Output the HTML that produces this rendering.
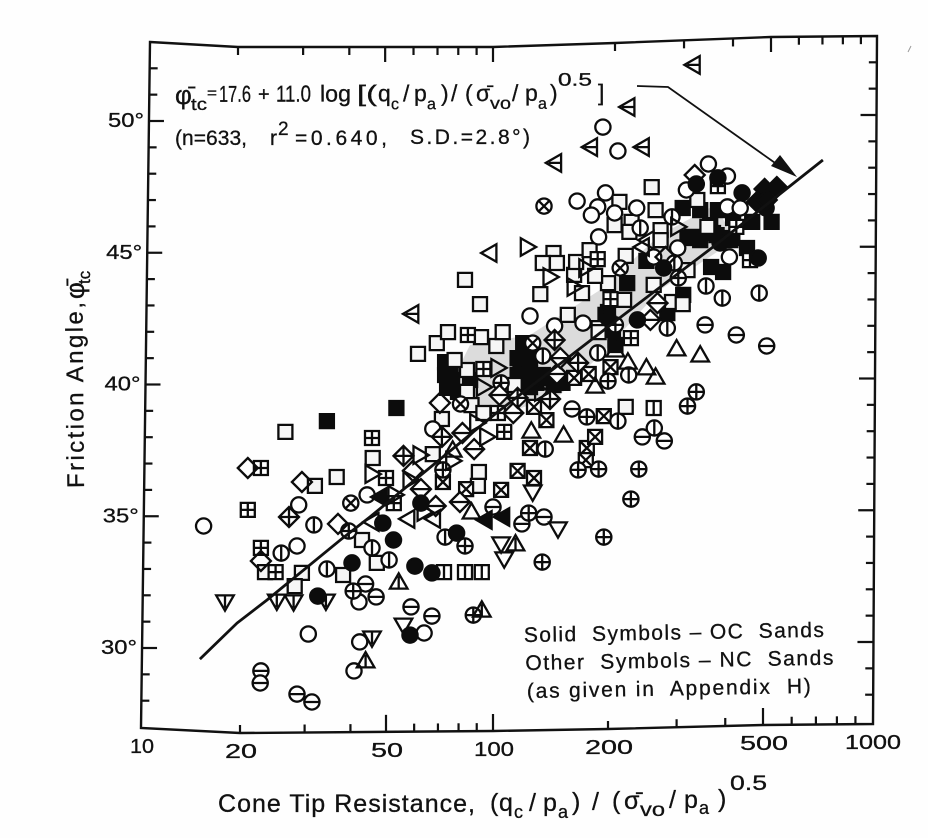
<!DOCTYPE html>
<html lang="en">
<head>
<meta charset="utf-8">
<title>Friction Angle vs Cone Tip Resistance</title>
<style>
html,body{margin:0;padding:0;background:#fff;width:928px;height:838px;overflow:hidden}
svg{display:block}
text{font-family:"Liberation Sans","DejaVu Sans",sans-serif;fill:#111;stroke:#111;stroke-width:.3px;white-space:pre}
</style>
</head>
<body>
<svg id="chart" xmlns="http://www.w3.org/2000/svg" width="928" height="838" viewBox="0 0 928 838">
  <rect x="0" y="0" width="928" height="838" fill="#fefefe"/>
  <path d="M445 395 L470 345 L530 335 L600 290 L660 235 L715 205 L735 240 L660 290 L610 345 L560 395 L500 415 Z" fill="#dcdcdc"/>
  <g id="marks"></g>
  <path id="fit" fill="none" stroke="#111" stroke-width="2.8"/>
  <path d="M150 42 L238 47 L493 47 L615 43 L771 37 L877 36 L873 724 L763 725 L608 729 L493 731 L240 733 L141 728 Z" fill="none" stroke="#111" stroke-width="2.4"/>
  <g id="ticks" stroke="#111" stroke-width="2.2"></g>
  <g id="labels"></g>

  <g transform="rotate(-0.2 175 102)">
    <text x="175" y="104" font-size="26">φ̄</text>
    <text x="191" y="110" font-size="17" textLength="16" lengthAdjust="spacingAndGlyphs">tc</text>
    <text x="207" y="98" font-size="15" textLength="10" lengthAdjust="spacingAndGlyphs">=</text>
    <text x="219" y="102" font-size="23" textLength="32" lengthAdjust="spacingAndGlyphs">17.6</text>
    <text x="258" y="101" font-size="20">+</text>
    <text x="276" y="102" font-size="23" textLength="35" lengthAdjust="spacingAndGlyphs">11.0</text>
    <text x="320" y="102" font-size="23" textLength="31" lengthAdjust="spacingAndGlyphs">log</text>
    <text x="357" y="102" font-size="23" textLength="20" lengthAdjust="spacingAndGlyphs">[(</text>
    <text x="378" y="102" font-size="23">q</text>
    <text x="391" y="110" font-size="16">c</text>
    <text x="403" y="102" font-size="23">/</text>
    <text x="414" y="102" font-size="23">p</text>
    <text x="427" y="110" font-size="16">a</text>
    <text x="441" y="102" font-size="23">)</text>
    <text x="451" y="102" font-size="23">/</text>
    <text x="465" y="102" font-size="23">(</text>
    <text x="476" y="102" font-size="23">σ̄</text>
    <text x="490" y="110" font-size="17" textLength="21" lengthAdjust="spacingAndGlyphs">vo</text>
    <text x="512" y="102" font-size="23">/</text>
    <text x="525" y="102" font-size="23">p</text>
    <text x="538" y="110" font-size="16">a</text>
    <text x="550" y="102" font-size="23">)</text>
    <text x="558" y="87" font-size="18" textLength="34" lengthAdjust="spacingAndGlyphs">0.5</text>
    <text x="598" y="102" font-size="23">]</text>
  </g>
  <g>
    <text x="175" y="145" font-size="21" textLength="72" lengthAdjust="spacing">(n=633,</text>
    <text x="270" y="145" font-size="21">r</text>
    <text x="278" y="135" font-size="19">2</text>
    <text x="295" y="145" font-size="21" textLength="92" lengthAdjust="spacing">=0.640,</text>
    <text x="410" y="144" font-size="21" textLength="120" lengthAdjust="spacing">S.D.=2.8°)</text>
  </g>

  <path d="M637 86 L668 87 L785 170" fill="none" stroke="#111" stroke-width="1.8"/>
  <path d="M797 177 L771 166 L780 155 Z" fill="#111"/>

  <g transform="rotate(-1 525 642)">
    <text x="524" y="642" font-size="21" textLength="300" lengthAdjust="spacing">Solid  Symbols – OC  Sands</text>
    <text x="525" y="670" font-size="21" textLength="308" lengthAdjust="spacing">Other  Symbols – NC  Sands</text>
    <text x="526" y="698" font-size="21" textLength="284" lengthAdjust="spacing">(as given in  Appendix  H)</text>
  </g>

  <g>
    <text transform="translate(84 488) rotate(-90.5)" font-size="24" textLength="186" lengthAdjust="spacing">Friction Angle,</text>
    <text transform="translate(84 299) rotate(-90.5)" font-size="26">φ̄</text>
    <text transform="translate(90 284) rotate(-90.5)" font-size="17">tc</text>
  </g>

  <g>
    <text x="218" y="812" font-size="25" textLength="257" lengthAdjust="spacing">Cone Tip Resistance,</text>
    <text x="490" y="811" font-size="25">(</text>
    <text x="499" y="811" font-size="25">q</text>
    <text x="514" y="818" font-size="18">c</text>
    <text x="529" y="811" font-size="25">/</text>
    <text x="543" y="811" font-size="25">p</text>
    <text x="558" y="818" font-size="18">a</text>
    <text x="572" y="810" font-size="25">)</text>
    <text x="592" y="810" font-size="25">/</text>
    <text x="612" y="809" font-size="25">(</text>
    <text x="624" y="809" font-size="25">σ̄</text>
    <text x="640" y="816" font-size="19" textLength="25" lengthAdjust="spacingAndGlyphs">vo</text>
    <text x="669" y="808" font-size="25">/</text>
    <text x="684" y="808" font-size="25">p</text>
    <text x="699" y="814" font-size="18">a</text>
    <text x="718" y="807" font-size="25">)</text>
    <text x="730" y="790" font-size="21" textLength="37" lengthAdjust="spacingAndGlyphs">0.5</text>
  </g>
  <path d="M908 52 L911 46" stroke="#999" stroke-width="1" fill="none"/>
</svg>

<script>
// ---- axis data ----
const xMajorTicks = [10, 20, 50, 100, 200, 500, 1000];
const xMinorTicks = [30, 40, 60, 70, 80, 90, 300, 400, 600, 700, 800, 900];
const xLabelledTicks = ["10", "20", "50", "100", "200", "500", "1000"];
const xLongTicks = [50, 100, 500];
const yDegrees = [27,28,29,30,31,32,33,34,35,36,37,38,39,40,41,42,43,44,45,46,47,48,49,50,51,52];
const yLabelledTicks = [30, 35, 40, 45, 50];

// ---- regression line (q, phi) ----
const fitX = [15.1, 19.6, 23.7, 38.1, 45.2, 102, 211, 372, 732];
const fitY = [29.58, 30.95, 31.82, 34.17, 34.97, 38.92, 42.45, 45.22, 48.52];

// ---- series: [normalised tip resistance, friction angle] ----
const circles = [[15.5,34.63],[30.7,30.53],[42.4,30.23],[40.9,29.13],[64,30.57],[67.7,38.31],[28.9,35.43],[28.6,33.87],[44.4,35.81],[42.2,31.75],[125,42.6],[145,42.22],[172,42.33],[166,46.96],[197,47.27],[188,46.74],[181,46.43],[208,46.51],[237,46.7],[189,45.6],[194,49.77],[212,48.86],[362,48.37],[405,47.91],[318,47.38],[405,46.74],[437,46.7],[410,44.84],[262,44.84],[302,45.18]];
const circlesBarH = [[22.8,29.13],[22.7,28.67],[28.6,28.25],[31.4,27.95],[58.8,31.56],[67.3,31.21],[44,32.43],[47,31.94],[100,35.35],[119,34.71],[136,34.97],[161,39.07],[245,38.01],[279,37.86],[427,41.88],[512,41.46],[355,42.26]];
const circlesBarV = [[31.8,34.67],[25.9,33.6],[45.8,33.8],[34.5,33],[51,33.34],[73.3,34.21],[135,41.08],[188,41.2],[226,40.36],[212,38.61],[137,37.55],[263,38.35],[284,42.14],[357,43.74],[393,43.28],[489,43.47],[292,46.36],[242,45.94],[296,44.61]];
const circlesPlus = [[40.7,32.16],[39.6,34.44],[72.3,36.76],[83.4,33.87],[88,31.25],[124,35.12],[195,34.21],[134.5,33.26],[337,39.72],[320,39.18],[176,38.77],[167,36.76],[189,36.79],[240,36.79],[229,35.65],[200,40.13],[105,40.06],[209,42.26],[303,44.04]];
const circlesCross = [[40.1,35.5],[81,39.26],[215,44.42],[136,46.77],[127,41.57]];
const squares = [[26.6,38.2],[46,37.21],[32,36.15],[36.7,36.49],[67.7,37.36],[71.8,38.69],[61.5,41.16],[83.4,43.97],[91.9,43.05],[91.3,36.68],[90.7,36.15],[43,34.1],[23.4,32.88],[29.5,32.85],[28.2,32.35],[38.2,32.77],[47.2,33.23],[69.5,41.57],[74.7,41.99],[92.5,41.8],[102,41.46],[106,41.99],[84.5,40.55],[84.5,39.72],[78,40.93],[87,39.22],[94,38.92],[114,39.98],[189,42.14],[157,42.64],[200,43.85],[220,43.21],[262,43.78],[292,43.13],[311,43.05],[133,43.43],[171,43.47],[185,44.12],[163,44.16],[144,44.99],[135,44.61],[147,44.61],[165,44.65],[179,45.1],[222,44.88],[320,44.34],[259,47.49],[214,46.93],[208,46.05],[265,46.62],[230,46.17],[227,45.79],[273,45.86],[273,45.48],[339,47],[360,45.98],[189,41.99],[222,39.15]];
const squaresGrid = [[22.8,36.83],[45.8,37.97],[21,35.24],[50,36.45],[52.6,35.5],[22.8,33.8],[25,32.88],[107,38.2],[103,38.92],[85,41.88],[94,40.59],[229,41.76],[188,44.76],[203,43.24],[463,44.72],[427,45.98],[383,47.53]];
const squaresBars = [[72.8,32.88],[83.4,32.88],[93,32.88],[262,39.11]];
const squaresCross = [[72.3,36.3],[84,36.03],[116,36.72],[105,36],[128,36.45],[125,37.59],[176,37.59],[175,37.13],[185,38.01],[195,38.8],[138,38.65],[128,39.15],[203,40.66],[163,40.25],[178,40.4]];
const solidSquares = [[34.5,38.61],[53.5,39.11],[76,40.66],[76.7,40.17],[79.7,39.72],[118,40.74],[125,40.44],[125,39.9],[135,40.36],[116,40.36],[152,40.06],[120,41.57],[197,42.64],[312,43.4],[284,42.71],[224,43.85],[251,44.69],[368,44.46],[395,44.27],[455,45.18],[311,46.7],[345,46.62],[383,46.62],[419,46.32],[469,46.17],[528,46.17],[345,45.48],[412,45.48],[372,45.75],[320,45.56],[73.3,40.85],[73.3,40.36],[74.3,39.87],[86.2,40.17],[116,41],[125,41],[116,39.98],[130,40.06],[137,40.25],[144,39.98],[209,41.5],[206,42.07],[200,42.75],[329,45.6],[366,46.05],[380,45.67],[417,45.56]];
const solidCircles = [[49,34.74],[52.5,34.1],[40.4,33.23],[60.3,33.11],[67.3,32.85],[32.6,31.97],[58.4,30.49],[79,34.36],[62.7,35.5],[278,44.42],[200,42.52],[238,42.45],[337,47.61],[383,47.84],[442,47.27],[510,46.7],[486,44.8],[388,45.37]];
const solidDiamonds = [[505,47.42],[546,47.49],[483,46.93],[512,47]];
const solidTrianglesLeft = [[95,34.86],[106,34.97],[48.1,35.73]];
const diamonds = [[21,36.83],[29.5,36.3],[37,34.71],[59.5,36.72],[22.8,33.3],[70.9,39.3],[334,47.95],[281,44.84]];
const diamondsBarH = [[82,38.16],[62.7,36.03],[88.5,37.55],[80.7,35.54],[69,35.39],[104,39.6],[113,38.92],[147,40.4],[150,41],[257,42.45],[268,43.09]];
const diamondsPlus = [[56,37.29],[71.8,38.01],[27.2,34.97],[116,39.49],[141,39.45],[145,41.69],[167,40.82]];
const trianglesUp = [[87,35.16],[77,37.51],[126,38.23],[153,38.08],[300,41.35],[345,41.12],[209,41.31],[225,40.85],[251,40.63],[265,40.28],[185,39.94]];
const trianglesUpBar = [[54.3,32.5],[44,29.51],[114.5,33.95],[93,31.44]];
const trianglesDown = [[105,33.95],[107,33.38],[127,35.92],[148,34.52],[56,30.87]];
const trianglesDownBar = [[18,31.75],[25.2,31.78],[28,31.75],[34.3,31.78],[45.8,30.38]];
const trianglesLeft = [[45.8,34.78],[57.6,34.9],[68,34.9],[98,44.99],[252,45.48],[245,45.22]];
const trianglesLeftBar = [[331,52.13],[225,50.53],[180,49.01],[245,49.01],[145,48.41],[59.1,42.68]];
const trianglesRight = [[45.8,36.6],[62.3,37.32],[58.4,36.38],[90,38.54],[77,37.1],[96,38.01],[53,35.81],[64,35.16],[103,40.63],[94,39.9],[134,39.72],[123,45.22],[141,44.08],[163,43.7],[175,44.42],[302,45.98]];

// ---- axis functions ----
function lerpAnchors(anchors, v) {
  for (let i = 1; i < anchors.length; i++) {
    if (v <= anchors[i][0] || i === anchors.length - 1) {
      const a = anchors[i - 1], b = anchors[i];
      return a[1] + (b[1] - a[1]) * (v - a[0]) / (b[0] - a[0]);
    }
  }
}
function xScale(q) {
  const anchors = [[1, 141], [Math.log10(20), 240], [Math.log10(50), 386], [2, 493], [Math.log10(200), 608], [Math.log10(500), 763], [3, 872]];
  return lerpAnchors(anchors, Math.log10(q));
}
function yScale(phi) { return 648 - 26.35 * (phi - 30); }
function bottomEdge(px) { return lerpAnchors([[141,728],[240,733],[493,731],[608,729],[763,725],[872,724]], px); }
function topEdge(px) { return lerpAnchors([[150,42],[238,47],[493,47],[615,43],[771,37],[877,36]], px); }
function topShift(px) { return lerpAnchors([[141,9],[240,-2],[493,0],[608,7],[763,8],[872,5]], px); }
function leftEdge(phi) { return 141 + (phi - 27) * 9 / 26; }
function rightEdge(phi) { return 873 + (phi - 27) * 4 / 26; }

// ---- symbol geometry ----
const S = 7, R = 7.6, D = 10, T = 8.8;
const outline = {
  square: (x, y) => `M${x-S} ${y-S}H${x+S}V${y+S}H${x-S}Z`,
  circle: (x, y) => `M${x-R} ${y}A${R} ${R} 0 1 1 ${x+R} ${y}A${R} ${R} 0 1 1 ${x-R} ${y}Z`,
  diamond: (x, y) => `M${x} ${y-D}L${x+D} ${y}L${x} ${y+D}L${x-D} ${y}Z`,
  up: (x, y) => `M${x} ${y-T}L${x+T} ${y+6.5}H${x-T}Z`,
  down: (x, y) => `M${x} ${y+T}L${x+T} ${y-6.5}H${x-T}Z`,
  left: (x, y) => `M${x-T} ${y}L${x+6.5} ${y-T}V${y+T}Z`,
  right: (x, y) => `M${x+T} ${y}L${x-6.5} ${y-T}V${y+T}Z`
};
const inner = {
  none: () => "",
  barH: (x, y, r) => `M${x-r} ${y}H${x+r}`,
  barV: (x, y, r) => `M${x} ${y-r}V${y+r}`,
  plus: (x, y, r) => `M${x-r} ${y}H${x+r}M${x} ${y-r}V${y+r}`,
  cross: (x, y, r) => { const k = r * 0.72; return `M${x-k} ${y-k}L${x+k} ${y+k}M${x+k} ${y-k}L${x-k} ${y+k}`; },
  squareCross: (x, y, r) => `M${x-r} ${y-r}L${x+r} ${y+r}M${x+r} ${y-r}L${x-r} ${y+r}`
};

function drawSeries(name, points, shape, detail, size, fill) {
  const group = document.getElementById("marks");
  points.forEach(function (p) {
    const x = +xScale(p[0]).toFixed(1), y = +yScale(p[1]).toFixed(1);
    const el = document.createElementNS("http://www.w3.org/2000/svg", "path");
    el.setAttribute("d", outline[shape](x, y) + inner[detail](x, y, size));
    el.setAttribute("fill", fill);
    el.setAttribute("stroke", "#0c0c0c");
    el.setAttribute("stroke-width", "2.3");
    
    
    group.appendChild(el);
  });
}

drawSeries("solid-square-point", solidSquares, "square", "none", S, "#0c0c0c");
drawSeries("open-square-point", squares, "square", "none", S, "#f6f6f6");
drawSeries("grid-square-point", squaresGrid, "square", "plus", S, "#fff");
drawSeries("barred-square-point", squaresBars, "square", "barV", S, "#fff");
drawSeries("crossed-square-point", squaresCross, "square", "squareCross", S, "#fff");
drawSeries("open-circle-point", circles, "circle", "none", R, "#fff");
drawSeries("circle-horizontal-bar-point", circlesBarH, "circle", "barH", R, "#fff");
drawSeries("circle-vertical-bar-point", circlesBarV, "circle", "barV", R, "#fff");
drawSeries("circle-plus-point", circlesPlus, "circle", "plus", R, "#fff");
drawSeries("circle-cross-point", circlesCross, "circle", "cross", R, "#fff");
drawSeries("open-diamond-point", diamonds, "diamond", "none", D, "none");
drawSeries("diamond-bar-point", diamondsBarH, "diamond", "barH", D, "#fff");
drawSeries("diamond-plus-point", diamondsPlus, "diamond", "plus", D, "#fff");
drawSeries("triangle-up-point", trianglesUp, "up", "none", 6, "none");
drawSeries("triangle-up-bar-point", trianglesUpBar, "up", "barV", 6, "none");
drawSeries("triangle-down-point", trianglesDown, "down", "none", 6, "none");
drawSeries("triangle-down-bar-point", trianglesDownBar, "down", "barV", 6, "none");
drawSeries("triangle-left-point", trianglesLeft, "left", "none", 6, "none");
drawSeries("triangle-left-bar-point", trianglesLeftBar, "left", "barH", 6, "none");
drawSeries("triangle-right-point", trianglesRight, "right", "none", 6, "none");
drawSeries("solid-circle-point", solidCircles, "circle", "none", R, "#0c0c0c");
drawSeries("solid-diamond-point", solidDiamonds, "diamond", "none", D, "#0c0c0c");
drawSeries("solid-triangle-left-point", solidTrianglesLeft, "left", "none", 6, "#0c0c0c");

// ---- regression line ----
document.getElementById("fit").setAttribute("d", fitX.map(function (q, i) {
  return (i ? "L" : "M") + xScale(q).toFixed(1) + " " + yScale(fitY[i]).toFixed(1);
}).join(" "));

// ---- ticks ----
function tick(x1, y1, x2, y2, name) {
  const el = document.createElementNS("http://www.w3.org/2000/svg", "line");
  el.setAttribute("x1", x1);
  el.setAttribute("y1", y1);
  el.setAttribute("x2", x2);
  el.setAttribute("y2", y2);
  
  
  document.getElementById("ticks").appendChild(el);
}
xMajorTicks.concat(xMinorTicks).forEach(function (v) {
  if (v === 10 || v === 1000) return;
  const b = xScale(v);
  const t = b + topShift(b);
  const long = xLongTicks.indexOf(v) >= 0;
  tick(b, bottomEdge(b), b, bottomEdge(b) - (long ? 17 : 8), "x-tick-bottom");
  tick(t, topEdge(t), t, topEdge(t) + (long ? 15 : 8), "x-tick-top");
});
yDegrees.forEach(function (phi) {
  const y = yScale(phi);
  const long = yLabelledTicks.indexOf(phi) >= 0;
  if (phi > 27) tick(leftEdge(phi), y, leftEdge(phi) + (long ? 15 : 8), y, "y-tick-left");
  if (phi > 27) tick(rightEdge(phi), y - 6, rightEdge(phi) - (long ? 16 : 8), y - 6, "y-tick-right");
});

// ---- tick labels ----
function labelWidth(s) {
  let w = 0;
  for (const c of s) w += (c === "1" ? 8 : 16);
  return w;
}
xLabelledTicks.forEach(function (s, i) {
  const px = xScale(xMajorTicks[i]);
  const el = document.createElementNS("http://www.w3.org/2000/svg", "text");
  el.textContent = s;
  const w = labelWidth(s);
  el.setAttribute("x", (px + 1 - w / 2).toFixed(1));
  el.setAttribute("y", (bottomEdge(px) + 25).toFixed(1));
  el.setAttribute("font-size", "20");
  el.setAttribute("textLength", w);
  el.setAttribute("lengthAdjust", "spacingAndGlyphs");
  
  
  document.getElementById("labels").appendChild(el);
});
yLabelledTicks.forEach(function (phi) {
  const el = document.createElementNS("http://www.w3.org/2000/svg", "text");
  el.textContent = phi + "°";
  el.setAttribute("x", (leftEdge(phi) - 41).toFixed(1));
  el.setAttribute("y", (yScale(phi) + 6).toFixed(1));
  el.setAttribute("font-size", "20");
  el.setAttribute("textLength", "36");
  el.setAttribute("lengthAdjust", "spacingAndGlyphs");
  
  
  document.getElementById("labels").appendChild(el);
});
</script>
</body>
</html>
